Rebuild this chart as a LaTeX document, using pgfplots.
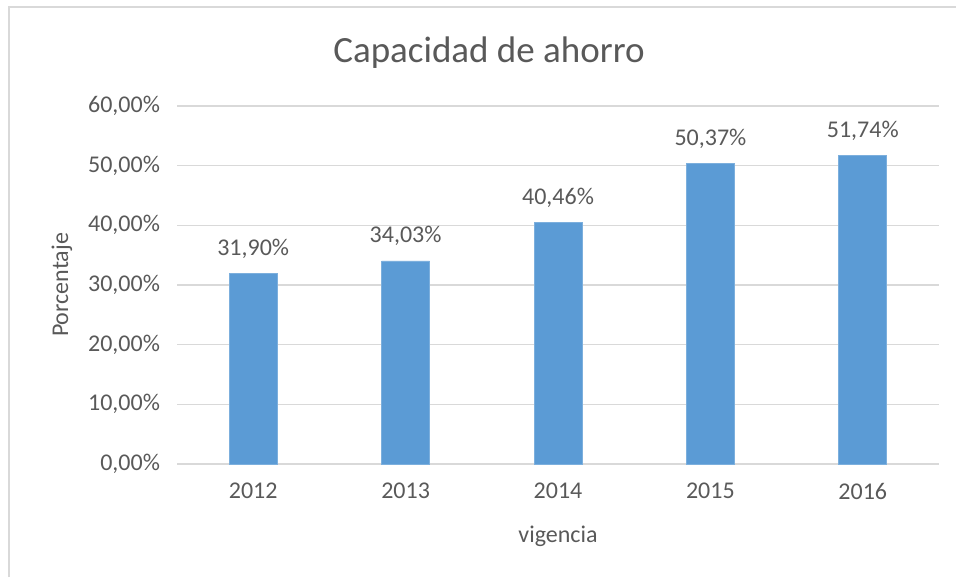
\documentclass[border=0pt]{standalone}
\usepackage{fontspec}
\setmainfont{Carlito}
\usepackage{pgfplots}
\pgfplotsset{compat=1.18}

\definecolor{barblue}{HTML}{5B9BD5}
\definecolor{txtgray}{HTML}{595959}
\definecolor{gridgray}{HTML}{D9D9D9}

\begin{document}
\begin{tikzpicture}
  % page frame: 956 x 577 px at 0.5pt per px
  \draw[gridgray, line width=0.8pt] (4.5pt,0) -- (4.5pt,285pt) -- (478pt,285pt);
  \node[txtgray, font=\fontsize{18.5}{22}\selectfont] at (244.5pt,262pt) {Capacidad de ahorro};
  \begin{axis}[
      at={(88.5pt,56.5pt)}, anchor=south west,
      scale only axis,
      width=381pt, height=179pt,
      ybar, bar width=24pt,
      xmin=-0.5, xmax=4.5,
      ymin=0, ymax=60,
      axis line style={draw=none},
      ymajorgrids,
      grid style={gridgray, line width=0.8pt},
      major tick length=0pt,
      xtick={0,1,2,3,4},
      xticklabels={2012,2013,2014,2015,2016},
      ytick={0,10,20,30,40,50,60},
      yticklabels={{0,00\%},{10,00\%},{20,00\%},{30,00\%},{40,00\%},{50,00\%},{60,00\%}},
      tick label style={txtgray, font=\fontsize{12}{14}\selectfont},
      xticklabel style={yshift=-6pt},
      yticklabel style={xshift=-5pt},
      /pgf/number format/assume math mode=true,
      xlabel={vigencia},
      ylabel={Porcentaje},
      label style={txtgray, font=\fontsize{12}{14}\selectfont},
      xlabel style={at={(axis description cs:0.5,-0.201)}, anchor=center},
      ylabel style={at={(axis description cs:-0.151,0.5)}, anchor=center},
      point meta=explicit symbolic,
      nodes near coords,
      nodes near coords style={txtgray, font=\fontsize{12}{14}\selectfont, anchor=south, yshift=4pt},
      clip=false,
    ]
    \addplot[fill=barblue, draw=barblue!80!white, line width=0.4pt] coordinates {
      (0,31.90) [31,90\%]
      (1,34.03) [34,03\%]
      (2,40.46) [40,46\%]
      (3,50.37) [50,37\%]
      (4,51.74) [51,74\%]
    };
  \end{axis}
  \pgfresetboundingbox
  \path (0,0) rectangle (478pt,288.5pt);
\end{tikzpicture}
\end{document}
